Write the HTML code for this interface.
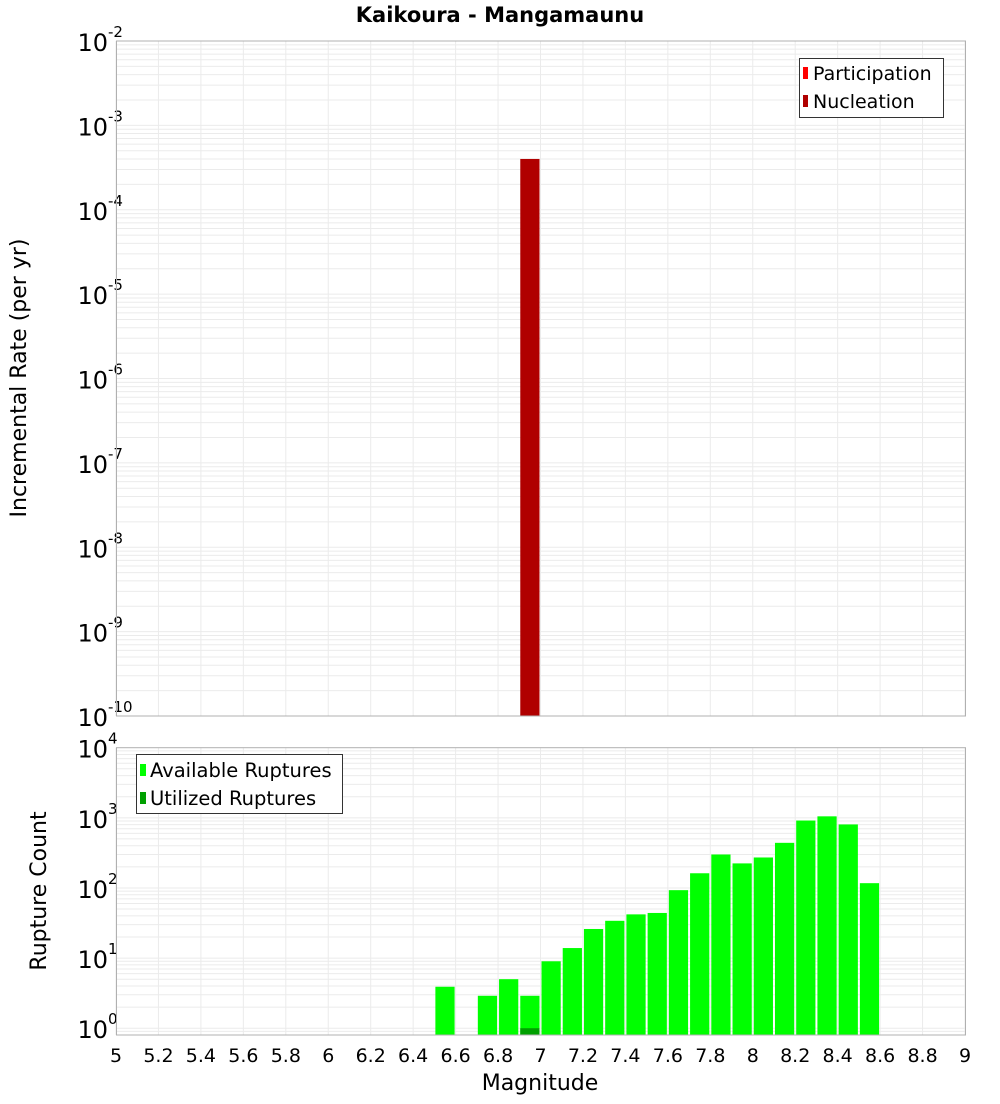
<!DOCTYPE html>
<html><head><meta charset="utf-8"><style>
body{margin:0;background:#fff;font-family:"DejaVu Sans","Liberation Sans",sans-serif;}
svg text{font-family:"DejaVu Sans","Liberation Sans",sans-serif;}
</style></head><body>
<svg id="chart" width="1000" height="1100" xmlns="http://www.w3.org/2000/svg">
<text x="500" y="22" text-anchor="middle" font-size="21" font-weight="bold">Kaikoura - Mangamaunu</text>
<g id="topPlot"></g>
<g id="botPlot"></g>
<text transform="translate(26,378) rotate(-90)" text-anchor="middle" font-size="22">Incremental Rate (per yr)</text>
<text transform="translate(46,891) rotate(-90)" text-anchor="middle" font-size="22">Rupture Count</text>
<text x="540" y="1090" text-anchor="middle" font-size="22">Magnitude</text>
<g>
<rect x="799.5" y="58.5" width="144" height="59" fill="#fff" stroke="#333"/>
<rect x="803" y="67" width="5" height="12" fill="#ff0000"/>
<text x="813" y="80" font-size="19">Participation</text>
<rect x="803" y="95" width="5" height="12" fill="#b00000"/>
<text x="813" y="108" font-size="19">Nucleation</text>
</g>
<g>
<rect x="136.5" y="754.5" width="206" height="59" fill="#fff" stroke="#333"/>
<rect x="140" y="764" width="6" height="12" fill="#00ff00"/>
<text x="150" y="777" font-size="19.5">Available Ruptures</text>
<rect x="140" y="792" width="6" height="12" fill="#00a000"/>
<text x="150" y="805" font-size="19.5">Utilized Ruptures</text>
</g>
</svg>
<script>
const rateMags=[6.95];
const rateValues=[4.0e-4];
const countMags=[6.55,6.75,6.85,6.95,7.05,7.15,7.25,7.35,7.45,7.55,7.65,7.75,7.85,7.95,8.05,8.15,8.25,8.35,8.45,8.55];
const availableCounts=[3.9,2.9,5,2.9,9,13.9,26,34,42,44,93,162,300,224,272,440,915,1050,805,117];
const utilizedMags=[6.95];
const utilizedCounts=[1];
const xTicks=[5,5.2,5.4,5.6,5.8,6,6.2,6.4,6.6,6.8,7,7.2,7.4,7.6,7.8,8,8.2,8.4,8.6,8.8,9];
const rateExps=[-2,-3,-4,-5,-6,-7,-8,-9,-10];
const countExps=[4,3,2,1,0];
const NS='http://www.w3.org/2000/svg';
const X0=116,X1=965;
const xs=m=>X0+(m-5)/4*(X1-X0);
const T0=41,T1=716;
const ysTop=v=>T0+(-2-Math.log10(v))/8*(T1-T0);
const B0=747.7,B1=1035;
const bmin=Math.log10(0.8);
const ysBot=v=>B0+(4-Math.log10(v))/(4-bmin)*(B1-B0);
function el(p,tag,a){const e=document.createElementNS(NS,tag);for(const k in a)e.setAttribute(k,a[k]);p.appendChild(e);return e;}
function frame(g,y0,y1,ys,lo,hi,exps){
  for(let d=lo;d<hi;d++)for(let k=1;k<10;k++){const v=k*Math.pow(10,d);const y=ys(v);if(y<y0||y>y1)continue;
    const l=el(g,'line',{x1:X0,x2:X1,y1:y,y2:y,stroke:'#ebebeb','stroke-width':1});
    
    }
  xTicks.forEach(t=>{const l=el(g,'line',{x1:xs(t),x2:xs(t),y1:y0,y2:y1,stroke:'#ebebeb','stroke-width':1});
    
    });
  exps.forEach(e=>{const y=ys(Math.pow(10,e));
    const t=el(g,'text',{x:108,y:y+10,'text-anchor':'end','font-size':24});
    
    
    t.textContent='10';
    const s=el(g,'text',{x:108,y:y-4,'font-size':15});
    
    
    s.textContent=String(e);});
}
const topG=document.getElementById('topPlot'),botG=document.getElementById('botPlot');
frame(topG,T0,T1,ysTop,-10,-2,rateExps);
frame(botG,B0,B1,ysBot,-1,4,countExps);
rateMags.forEach((m,i)=>{const y=ysTop(rateValues[i]);
  const r=el(topG,'rect',{x:xs(m-0.05)+1,y:y,width:xs(m+0.05)-xs(m-0.05)-2,height:T1-y,fill:'#b00000'});
  
  });
countMags.forEach((m,i)=>{const y=ysBot(availableCounts[i]);
  const r=el(botG,'rect',{x:xs(m-0.05)+1,y:y,width:xs(m+0.05)-xs(m-0.05)-2,height:B1-y,fill:'#00ff00'});
  
  });
utilizedMags.forEach((m,i)=>{const y=ysBot(utilizedCounts[i]);
  const r=el(botG,'rect',{x:xs(m-0.05)+1,y:y,width:xs(m+0.05)-xs(m-0.05)-2,height:B1-y,fill:'#00a000'});
  
  });
[[topG,T0,T1],[botG,B0,B1]].forEach(([g,a,b])=>{const r=el(g,'rect',{x:X0+0.5,y:a,width:X1-X0,height:b-a,fill:'none',stroke:'#b0b0b0'});
  
  });
xTicks.forEach(t=>{const tx=el(botG,'text',{x:xs(t),y:1062,'text-anchor':'middle','font-size':19});
  
  
  tx.textContent=String(t);});
</script>
</body></html>
